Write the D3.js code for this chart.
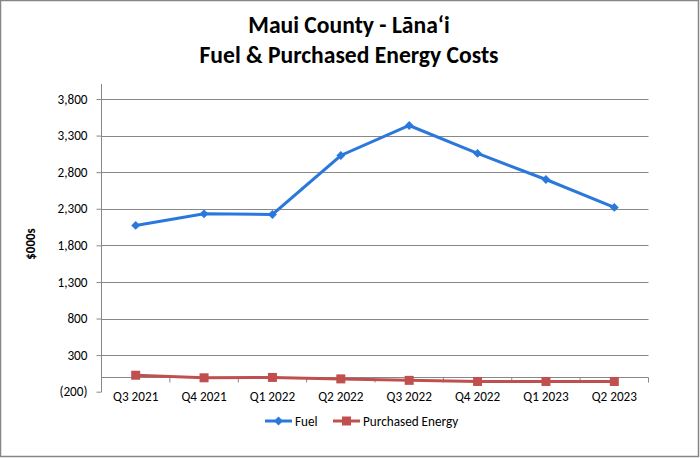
<!DOCTYPE html>
<html><head><meta charset="utf-8">
<script src="https://cdn.jsdelivr.net/npm/d3@7"></script>
<style>body{margin:0;background:#fff}svg{display:block}</style>
</head><body>
<script>
const categories = ["Q3 2021","Q4 2021","Q1 2022","Q2 2022","Q3 2022","Q4 2022","Q1 2023","Q2 2023"];
const fuel = [2072, 2231, 2222, 3028, 3438, 3056, 2700, 2318];
const purchased = [25, -10, -5, -25, -45, -60, -60, -60];
const yTicks = [-200, 300, 800, 1300, 1800, 2300, 2800, 3300, 3800];
const seriesNames = ["Fuel", "Purchased Energy"];

const W = 700, H = 458;
const svg = d3.select("body").append("svg").attr("width", W).attr("height", H);
svg.append("rect").attr("x",0.5).attr("y",0.5).attr("width",W-2).attr("height",H-2)
  .attr("fill","#fff").attr("stroke","#868686").attr("stroke-width",1.5);

const font = "Calibri, Carlito, Lato, 'Open Sans', sans-serif";
const fs = 13.2;
const left = 101.5, right = 648.5;
const y = d3.scaleLinear().domain([-200, 3800]).range([391.7, 99]);
const x = d3.scaleBand().domain(categories).range([left, right]);
const xc = d => x(d) + x.bandwidth()/2;

// title
const t = svg.append("text").attr("text-anchor","middle").attr("font-family",font)
  .attr("font-weight","bold").attr("font-size",23.6).attr("fill","#000");
t.append("tspan").attr("x",349).attr("y",33).text("Maui County - L\u0101na\u02bbi");
t.append("tspan").attr("x",349).attr("y",63).text("Fuel & Purchased Energy Costs");

// gridlines
svg.append("g").selectAll("line").data(yTicks.filter(v => v > -200)).join("line")
  .attr("x1",left).attr("x2",right).attr("y1",d=>Math.round(y(d))+0.5).attr("y2",d=>Math.round(y(d))+0.5)
  .attr("stroke","#888").attr("stroke-width",1);

// y axis
const yAxis = d3.axisLeft(y).tickValues(yTicks).tickSize(5).tickPadding(9)
  .tickFormat(d => d < 0 ? "(" + d3.format(",")(-d) + ")" : d3.format(",")(d));
const ga = svg.append("g").attr("transform",`translate(${left},0)`).call(yAxis);
ga.select(".domain").remove();
ga.selectAll(".tick line").attr("stroke","#888");
ga.selectAll("text").attr("font-family",font).attr("font-size",fs).attr("fill","#000");
svg.append("line").attr("x1",left).attr("x2",left).attr("y1",84).attr("y2",392)
  .attr("stroke","#888").attr("stroke-width",1);

// x axis at 0
const y0 = Math.round(y(0)) + 0.5;
svg.append("line").attr("x1",left).attr("x2",right).attr("y1",y0).attr("y2",y0).attr("stroke","#888");
svg.append("g").selectAll("line").data(categories.slice(1).concat(["__end"])).join("line")
  .attr("x1",(d,i)=> i < categories.length-1 ? x(d) : right)
  .attr("x2",(d,i)=> i < categories.length-1 ? x(d) : right)
  .attr("y1",y0).attr("y2",y0+5).attr("stroke","#888");
svg.append("g").selectAll("text").data(categories).join("text")
  .attr("x",d=>xc(d)).attr("y",401).attr("text-anchor","middle")
  .attr("font-family",font).attr("font-size",fs).attr("fill","#000").text(d=>d);

// y label
svg.append("text").attr("transform","translate(35,244) rotate(-90)").attr("text-anchor","middle")
  .attr("font-family",font).attr("font-weight","bold").attr("font-size",13).text("$000s");

const blue = "#2a78dc", red = "#c0504d";
const line = d3.line().x((d,i)=>xc(categories[i])).y(d=>y(d));

svg.append("path").datum(purchased).attr("d",line).attr("fill","none").attr("stroke",red).attr("stroke-width",3);
svg.append("g").selectAll("rect").data(purchased).join("rect")
  .attr("x",(d,i)=>xc(categories[i])-4.5).attr("y",d=>y(d)-4.5).attr("width",9).attr("height",9).attr("fill",red);

svg.append("path").datum(fuel).attr("d",line).attr("fill","none").attr("stroke",blue).attr("stroke-width",3);
const diamond = d3.symbol().type(d3.symbolDiamond2).size(50);
svg.append("g").selectAll("path").data(fuel).join("path")
  .attr("d",diamond).attr("transform",(d,i)=>`translate(${xc(categories[i])},${y(d)})`).attr("fill",blue);

// legend
const lg = svg.append("g");
lg.append("line").attr("x1",265).attr("x2",292).attr("y1",421).attr("y2",421).attr("stroke",blue).attr("stroke-width",3);
lg.append("path").attr("d",diamond).attr("transform","translate(278.5,421)").attr("fill",blue);
lg.append("text").attr("x",295).attr("y",425.5).attr("font-family",font).attr("font-size",fs).text(seriesNames[0]);
lg.append("line").attr("x1",333).attr("x2",360).attr("y1",421).attr("y2",421).attr("stroke",red).attr("stroke-width",3);
lg.append("rect").attr("x",342).attr("y",416.5).attr("width",9).attr("height",9).attr("fill",red);
lg.append("text").attr("x",363).attr("y",425.5).attr("font-family",font).attr("font-size",fs).text(seriesNames[1]);
</script>
</body></html>
